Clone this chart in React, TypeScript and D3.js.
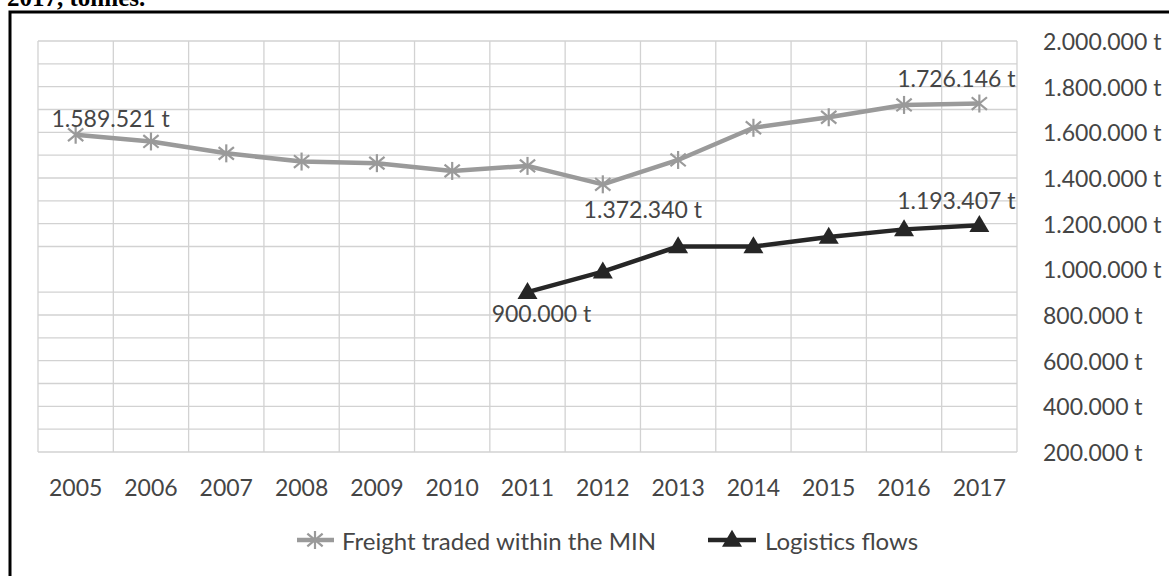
import React from 'react';
import * as d3 from 'd3';

const years = ['2005', '2006', '2007', '2008', '2009', '2010', '2011', '2012', '2013', '2014', '2015', '2016', '2017'];
const freight = [1589521, 1560000, 1508000, 1472000, 1465000, 1431000, 1453000, 1372340, 1479000, 1620000, 1666000, 1720000, 1726146];
const logistics = [null, null, null, null, null, null, 900000, 990000, 1100000, 1100000, 1142000, 1175000, 1193407];
const axisTicks = [200000, 400000, 600000, 800000, 1000000, 1200000, 1400000, 1600000, 1800000, 2000000];
const seriesNames = ['Freight traded within the MIN', 'Logistics flows'];

// which points carry a value label, and where it sits relative to the marker
const freightLabels = [
  { i: 0, dx: 35, dy: -17 },
  { i: 7, dx: 40, dy: 25 },
  { i: 12, dx: -23, dy: -26 },
];
const logisticsLabels = [
  { i: 6, dx: 14, dy: 21 },
  { i: 12, dx: -23, dy: -25 },
];

const W = 1169;
const H = 576;
const plot = { left: 38, right: 1017, top: 41, bottom: 452 };
const FONT = 'Lato, "Open Sans", sans-serif';
const TEXT = '#454545';
const GREY = '#9a9a9a';
const DARK = '#262626';

const fmt = d3.formatLocale({ decimal: ',', thousands: '.', grouping: [3], currency: ['', ''] }).format(',d');

const Star = ({ x, y, r = 9 }: { x: number; y: number; r?: number }) => (
  <g transform={`translate(${x},${y})`} stroke={GREY} strokeWidth={2.2}>
    <line x1={-r * 0.85} y1={-r * 0.7} x2={r * 0.85} y2={r * 0.7} />
    <line x1={-r * 0.85} y1={r * 0.7} x2={r * 0.85} y2={-r * 0.7} />
    <line x1={0} y1={-r} x2={0} y2={r} />
  </g>
);

const Tri = ({ x, y, w = 20, h = 17 }: { x: number; y: number; w?: number; h?: number }) => (
  <path d={`M${x},${y - h * 0.6}L${x + w / 2},${y + h * 0.4}L${x - w / 2},${y + h * 0.4}Z`} fill={DARK} />
);

export default function App() {
  const x = d3.scaleBand<string>().domain(years).range([plot.left, plot.right]);
  const cx = (i: number) => (x(years[i]) as number) + x.bandwidth() / 2;
  const y = d3.scaleLinear().domain([200000, 2000000]).range([plot.bottom, plot.top]);

  // minor gridlines every 100.000 t; the 1.000.000 t line is absent in the original
  const gridValues = d3.range(200000, 2000001, 100000).filter(v => v !== 1000000);
  const colEdges = years.map(d => x(d) as number).concat([plot.right]);

  const line = d3.line<number | null>()
    .defined(d => d != null)
    .x((_d, i) => cx(i))
    .y(d => y(d as number));

  const legendY = 540;

  return (
    <svg width={W} height={H} style={{ position: 'absolute', left: 0, top: 0 }} fontFamily={FONT}>
      <rect width={W} height={H} fill="#fff" />
      <text x={7} y={6} fontFamily='"Liberation Serif", serif' fontWeight="bold" fontSize={25} fill="#000">2017, tonnes.</text>
      <rect x={10} y={12} width={1300} height={700} fill="none" stroke="#000" strokeWidth={3} />

      <g stroke="#d2d2d2" strokeWidth={1.3}>
        {gridValues.map(v => (
          <line key={'h' + v} x1={plot.left} x2={plot.right} y1={y(v)} y2={y(v)} />
        ))}
        {colEdges.map((e, i) => (
          <line key={'v' + i} x1={e} x2={e} y1={plot.top} y2={plot.bottom} />
        ))}
      </g>

      {years.map((d, i) => (
        <text key={d} x={cx(i)} y={487} textAnchor="middle" dominantBaseline="central" fontSize={23} fill={TEXT}>{d}</text>
      ))}
      {axisTicks.map(v => (
        <text key={v} x={1043} y={y(v)} dominantBaseline="central" fontSize={23} fill={TEXT}>{fmt(v)} t</text>
      ))}

      <path d={line(freight) || ''} fill="none" stroke={GREY} strokeWidth={4.5} strokeLinejoin="round" />
      {freight.map((v, i) => <Star key={i} x={cx(i)} y={y(v)} />)}

      <path d={line(logistics) || ''} fill="none" stroke={DARK} strokeWidth={4.5} strokeLinejoin="round" />
      {logistics.map((v, i) => (v == null ? null : <Tri key={i} x={cx(i)} y={y(v)} />))}

      {freightLabels.map(l => (
        <text key={'fl' + l.i} x={cx(l.i) + l.dx} y={y(freight[l.i]) + l.dy} textAnchor="middle" dominantBaseline="central" fontSize={23} fill={TEXT}>
          {fmt(freight[l.i])} t
        </text>
      ))}
      {logisticsLabels.map(l => (
        <text key={'ll' + l.i} x={cx(l.i) + l.dx} y={y(logistics[l.i] as number) + l.dy} textAnchor="middle" dominantBaseline="central" fontSize={23} fill={TEXT}>
          {fmt(logistics[l.i] as number)} t
        </text>
      ))}

      <g>
        <line x1={297} x2={334} y1={legendY} y2={legendY} stroke={GREY} strokeWidth={4.5} />
        <Star x={315} y={legendY} />
        <text x={342} y={legendY} dominantBaseline="central" fontSize={24} fill={TEXT}>{seriesNames[0]}</text>
        <line x1={708} x2={756} y1={legendY} y2={legendY} stroke={DARK} strokeWidth={4.5} />
        <Tri x={732} y={legendY} />
        <text x={765} y={legendY} dominantBaseline="central" fontSize={24} fill={TEXT}>{seriesNames[1]}</text>
      </g>
    </svg>
  );
}
